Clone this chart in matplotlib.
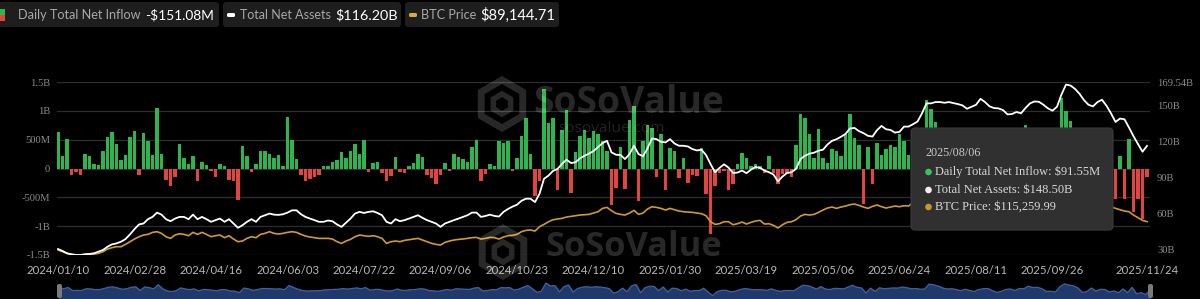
import matplotlib
matplotlib.use("Agg")
import matplotlib.pyplot as plt
import numpy as np
from matplotlib.patches import FancyBboxPatch, Rectangle, Circle, RegularPolygon
from matplotlib.transforms import IdentityTransform

# ---------------- data (2-trading-day samples) ----------------
inflow_m = [
    640, 220, 520, -120, -60, -110, 250, 220, 75, 60,
    300, 550, 630, 420, 150, 240, 540, 650, -120, 620,
    470, 230, 1050, 250, -200, -300, -150, 420, 190, 80,
    220, -210, 120, 60, -50, -155, 75, 45, -200, -220,
    -546, 390, 220, -69, 75, 300, 300, 247, 190,
    240, 40, 890, 500, 160, -110, -210, -180, -150, -120,
    40, 40, 120, 140, 290, 180, 305, 420, 250, 490,
    -60, 100, 120, -80, -210, -130, 200, -60, -70, 50,
    90, 250, 200, -110, -170, -270, -110, 100, -50, 250,
    200, 160, 110, 370, 500, -210, -100, 70, 40,
    470, 440, 470, -40, 180, 560, 880, 250, -480, -210,
    1380, 790, 880, -380, 670, 1010, -420, 290, 560, 670,
    530, 650, 590, 470, 300, -640, -330, 380, -360, 840,
    1080, -560, 470, 760, 700, -150, 590, -380, 360, 300,
    -160, 180, -250, -120, -130, 360, -450, -1140, -300,
    -70, -50, -380, -270, 70, 270, 190, 40, 70, 40,
    -70, 220, -70, -270, -100, -100, -155, 410, 940, 880,
    590, 180, 680, 190, 100, 330, 300, 220, 590, 940,
    535, 410, -620, 380, -270, 450, 240, 330, 410, 380,
    590, 480, 240, 300, 150, 200, 1180, 1030, 800,
    400, 200, 250, 100, -150, 150, -100, -300, 91.55, 250,
    300, -100, -500, -250, 100, 200, -100, 300, 250, 760,
    500, 550, 250, -300, -250, -400, 650, 1220, 1000, 830,
    400, -500, -300, 400, -250, 150, 100, -400, -200, -530,
    210, -530, 520, -760, -530, -880, -151.08,
]

tna_b = [
    30.1, 28.5, 26.5, 25.7, 25.1, 25.1, 25.7, 26.0, 26.5, 27.9,
    29.3, 32.0, 34.0, 34.8, 36.2, 38.4, 42.3, 46.7, 50.6, 51.4,
    55.0, 56.9, 60.5, 58.8, 55.0, 53.3, 55.5, 56.9, 56.9, 55.0,
    58.8, 55.0, 56.9, 55.0, 52.8, 54.2, 55.5, 52.8, 55.0, 51.4,
    47.8, 50.0, 52.8, 55.0, 52.8, 56.9, 58.3, 59.7, 58.8,
    58.6, 59.1, 60.5, 62.4, 62.4, 59.1, 56.9, 55.5, 54.2, 52.8,
    52.8, 53.9, 53.3, 50.6, 48.6, 52.0, 55.5, 59.7, 61.1, 60.2,
    61.1, 61.6, 60.2, 58.3, 52.8, 51.4, 55.0, 53.3, 54.2, 55.5,
    56.9, 58.3, 56.1, 54.2, 52.8, 51.4, 48.6, 51.4, 52.8, 54.2,
    55.5, 56.9, 58.3, 60.5, 60.5, 56.9, 57.7, 58.8, 57.7,
    57.2, 61.1, 63.5, 65.5, 67.1, 70.4, 72.1, 72.1, 69.3, 76.2,
    88.7, 91.4, 95.3, 97.0, 101.1, 104.7, 101.9, 102.5, 105.8, 108.0,
    109.7, 111.9, 115.2, 118.5, 120.4, 110.8, 108.8, 108.6, 105.2, 109.4,
    116.3, 109.4, 107.5, 114.1, 122.4, 121.8, 119.6, 119.1, 121.8, 118.2,
    116.3, 116.3, 115.7, 113.5, 112.4, 113.0, 108.6, 101.1, 94.2,
    97.8, 100.8, 98.1, 93.6, 93.9, 95.6, 93.4, 96.4, 98.6, 97.8,
    95.6, 94.2, 92.3, 86.5, 90.6, 93.6, 94.2, 97.0, 105.2, 108.0,
    109.7, 110.5, 112.2, 113.0, 117.4, 120.4, 121.8, 123.8, 126.2, 130.7,
    131.2, 128.5, 126.8, 124.6, 124.0, 129.3, 132.9, 130.1, 129.5, 127.3,
    127.9, 132.3, 132.3, 134.3, 136.5, 143.4, 151.7, 151.7, 152.8,
    152.8, 152.2, 152.8, 151.9, 151.1, 150.0, 147.2, 148.9, 150.5, 155.5,
    152.8, 149.2, 147.8, 147.5, 146.1, 142.5, 142.8, 144.5, 143.4, 147.8,
    151.7, 153.3, 153.0, 150.5, 147.5, 145.6, 148.9, 159.1, 167.4, 166.6,
    163.8, 159.7, 154.4, 150.5, 149.2, 152.8, 154.7, 149.7, 143.4, 136.2,
    139.0, 138.4, 131.5, 124.3, 117.7, 111.3, 116.2,
]

btc_k = [
    46.6, 44.1, 41.6, 40.1, 39.1, 39.1, 40.1, 40.1, 40.6, 41.6,
    44.1, 48.1, 50.1, 51.6, 51.6, 55.1, 59.1, 63.1, 66.6, 69.1,
    70.1, 73.1, 74.1, 71.6, 66.6, 64.1, 69.1, 71.1, 70.1, 68.1,
    73.1, 70.1, 73.1, 70.1, 66.6, 68.1, 69.1, 65.1, 68.1, 63.1,
    59.1, 60.1, 64.1, 66.6, 65.1, 70.1, 71.6, 74.1, 71.6,
    70.6, 71.6, 73.1, 74.1, 73.1, 70.1, 67.6, 66.1, 65.1, 64.1,
    64.1, 64.1, 63.1, 59.1, 56.6, 60.1, 62.6, 66.6, 69.1, 68.1,
    67.1, 68.1, 66.6, 64.1, 56.6, 59.1, 60.1, 59.1, 61.1, 62.1,
    63.1, 64.1, 61.6, 59.1, 56.6, 55.1, 54.1, 58.1, 60.1, 61.6,
    62.6, 63.1, 64.1, 65.1, 65.6, 63.1, 64.1, 65.6, 65.1,
    63.1, 66.1, 68.1, 68.6, 70.1, 74.1, 76.1, 76.6, 75.1, 81.6,
    85.1, 89.1, 92.1, 93.1, 94.1, 96.1, 97.1, 98.1, 99.1, 99.6,
    100.1, 102.1, 104.1, 109.1, 110.6, 105.6, 101.6, 100.1, 99.1, 102.1,
    106.1, 100.1, 102.1, 108.1, 111.6, 110.6, 109.1, 106.6, 109.1, 107.1,
    105.1, 104.1, 103.6, 103.1, 102.1, 101.1, 98.1, 89.1, 85.1,
    86.1, 89.1, 89.1, 84.6, 86.1, 88.6, 85.6, 88.1, 90.1, 91.1,
    85.6, 86.1, 83.6, 79.6, 84.6, 88.1, 89.1, 92.1, 97.6, 100.1,
    99.1, 100.1, 103.1, 106.6, 109.6, 111.1, 109.1, 111.1, 112.6, 114.6,
    115.6, 113.6, 111.1, 109.1, 112.1, 114.1, 111.6, 109.6, 111.1, 112.6,
    111.6, 113.1, 112.6, 118.1, 120.0, 119.0, 118.0, 117.0, 118.0,
    117.5, 118.5, 119.0, 118.0, 118.5, 118.0, 117.5, 115.0, 114.0, 116.5,
    119.0, 121.0, 118.0, 115.5, 113.0, 112.0, 111.0, 110.0, 108.5, 110.5,
    111.5, 112.0, 114.5, 115.5, 116.5, 116.0, 113.0, 111.0, 114.0, 119.0,
    123.0, 124.5, 121.5, 115.0, 114.0, 111.0, 108.0, 109.5, 112.0, 109.1,
    107.1, 105.1, 104.1, 99.1, 95.1, 91.1, 89.14,
]

date_labels = ["2024/01/10", "2024/02/28", "2024/04/16", "2024/06/03", "2024/07/22",
               "2024/09/06", "2024/10/23", "2024/12/10", "2025/01/30", "2025/03/19",
               "2025/05/06", "2025/06/24", "2025/08/11", "2025/09/26", "2025/11/24"]

left_ticks = [-1.5, -1.0, -0.5, 0, 0.5, 1.0, 1.5]
left_tick_labels = ["-1.5B", "-1B", "-500M", "0", "500M", "1B", "1.5B"]
right_ticks = [30, 60, 90, 120, 150, 169.54]
right_tick_labels = ["30B", "60B", "90B", "120B", "150B", "169.54B"]

legend_names = ["Daily Total Net Inflow", "Total Net Assets", "BTC Price"]
legend_values = ["-$151.08M", "$116.20B", "$89,144.71"]

tip_date = "2025/08/06"
tip_lines = ["Daily Total Net Inflow: $91.55M", "Total Net Assets: $148.50B", "BTC Price: $115,259.99"]

# ---------------- style ----------------
GREEN = "#2fb54d"
RED = "#e0463f"
WHITE = "#ffffff"
GOLD = "#d19a2e"
GRID = "#2e2e2e"
TICK = "#8e8e8e"

W, H = 1200, 299
fig = plt.figure(figsize=(W / 100, H / 100), dpi=100, facecolor="black")
ID = IdentityTransform()


def fx(x):
    return x / W


def fy(y):
    return 1 - y / H


n = len(inflow_m)
step_px = 4.5          # pixel width of one sample slot
x0_px = 58.0           # pixel position of first slot
left_px, right_px, top_px, bot_px = 57, 1150, 82, 255

ax = fig.add_axes([fx(left_px), fy(bot_px), (right_px - left_px) / W, (bot_px - top_px) / H])
ax.set_facecolor("black")
idx = np.arange(n)
vals = np.array(inflow_m) / 1000.0
cols = [GREEN if v >= 0 else RED for v in vals]
ax.bar(idx, vals, width=0.78, color=cols, zorder=3, linewidth=0)
xl = ((left_px - x0_px) / step_px, (right_px - x0_px) / step_px)
ax.set_xlim(*xl)
ax.set_ylim(-1.5, 1.5)
ax.set_yticks(left_ticks)
ax.set_yticklabels(left_tick_labels)
ax.grid(axis="y", color=GRID, linewidth=0.9, zorder=0)
ax.set_axisbelow(True)
ax.tick_params(axis="y", length=0, pad=5, labelsize=7.6, labelcolor=TICK)
for lab in ax.get_yticklabels():
    lab.set_fontfamily("Liberation Serif")
pos = [17 * k for k in range(len(date_labels) - 1)] + [n - 1]
ax.set_xticks(pos)
ax.set_xticklabels(date_labels)
ax.tick_params(axis="x", length=0, pad=7, labelsize=8.2, labelcolor="#b8b8b8")
for lab in ax.get_xticklabels():
    lab.set_fontfamily("Lato")
for s in ax.spines.values():
    s.set_visible(False)

ax3 = ax.twinx()
ax3.plot(idx, btc_k, color=GOLD, linewidth=1.2, zorder=4)
ax3.set_ylim(39.15, 298.7)
ax3.set_yticks([])
for s in ax3.spines.values():
    s.set_visible(False)

ax2 = ax.twinx()
ax2.plot(idx, tna_b, color=WHITE, linewidth=1.3, zorder=5)
ax2.set_ylim(25.1, 169.54)
ax2.set_yticks(right_ticks)
ax2.set_yticklabels(right_tick_labels)
ax2.tick_params(axis="y", length=0, pad=5, labelsize=7.6, labelcolor=TICK)
for lab in ax2.get_yticklabels():
    lab.set_fontfamily("Liberation Serif")
for s in ax2.spines.values():
    s.set_visible(False)
ax2.set_xlim(*xl)
ax3.set_xlim(*xl)

# ---------------- navigator ----------------
nav = fig.add_axes([fx(59), 0, (1150 - 59) / W, (H - 281) / H])
nav.set_facecolor("#1a2b4c")
nav.plot(idx, vals, color="#3f62a3", linewidth=0.9)
nav.fill_between(idx, vals, -2.0, color="#20386a")
nav.set_xlim(0, n - 1)
nav.set_ylim(-1.8, 1.8)
nav.axis("off")
nav.add_patch(Rectangle((0, 0), 1, 1, transform=nav.transAxes, facecolor="none", edgecolor="none"))

renderer = fig.canvas.get_renderer()


def fit_text(s, xa, xb, yc, **kw):
    t = fig.text(xa, H - yc, s, transform=ID, ha="left", va="center", fontsize=10, **kw)
    bb = t.get_window_extent(renderer)
    t.set_fontsize(10 * (xb - xa) / bb.width)
    return t


def rbox(xa, ya, xb, yb, fc, ec="none", r=3, z=10, alpha=1.0, lw=0.8):
    p = FancyBboxPatch((xa, H - yb), xb - xa, yb - ya, boxstyle=f"round,pad=0,rounding_size={r}",
                       transform=ID, facecolor=fc, edgecolor=ec, zorder=z, alpha=alpha, linewidth=lw)
    fig.patches.append(p)
    return p


for xh in (57, 1148):
    rbox(xh, 284, xh + 5, 298, "#7a7a7a", r=2, z=12)

# ---------------- watermark ----------------
WM = dict(color="white", alpha=0.16, zorder=20)
for (cx, cy), (ta, tb, tyc) in [((502, 104), (533, 725, 103)), ((503, 252), (545, 722, 247))]:
    hexa = RegularPolygon((cx, H - cy), numVertices=6, radius=24, orientation=0, transform=ID,
                          facecolor="none", edgecolor="white", linewidth=5, alpha=0.16, zorder=20)
    fig.patches.append(hexa)
    inner = RegularPolygon((cx, H - cy), numVertices=6, radius=10, orientation=0, transform=ID,
                           facecolor="none", edgecolor="white", linewidth=4, alpha=0.16, zorder=20)
    fig.patches.append(inner)
    fit_text("SoSoValue", ta, tb, tyc, fontweight="bold", family="Open Sans", **WM)
fit_text("sosovalue.com", 558, 664, 129, family="Open Sans", color="white", alpha=0.14, zorder=20)

# ---------------- legend ----------------
PILL = "#1e1e1e"
rbox(-6, 2, 219, 27, PILL, r=3)
rbox(223, 2, 401, 27, PILL, r=3)
rbox(405, 2, 559, 27, PILL, r=3)
fig.patches.append(Rectangle((0, H - 15), 5, 6, transform=ID, facecolor=GREEN, zorder=11))
fig.patches.append(Rectangle((0, H - 21), 5, 6, transform=ID, facecolor=RED, zorder=11))
rbox(227, 13, 235, 17, WHITE, r=1.5, z=11)
rbox(409, 13, 417, 17, "#e0a83a", r=1.5, z=11)
LG = dict(color="#a8a8a8", family="Lato", zorder=12)
LV = dict(color="#ffffff", family="Lato", zorder=12)
fit_text(legend_names[0], 18, 140, 15, **LG)
fit_text(legend_values[0], 145, 214, 15, **LV)
fit_text(legend_names[1], 240, 331, 15, **LG)
fit_text(legend_values[1], 335, 398, 15, **LV)
fit_text(legend_names[2], 421, 476, 15, **LG)
fit_text(legend_values[2], 480, 555, 15, **LV)

# ---------------- tooltip ----------------
rbox(911, 128, 1113, 230, "#303030", ec="#3c3c3c", r=4, z=30)
TT = dict(color="#d8d8d8", family="Liberation Serif", zorder=31)
fit_text(tip_date, 925, 980, 153, **dict(TT, color="#c8c8c8"))
fit_text(tip_lines[0], 935, 1100, 172, **TT)
fit_text(tip_lines[1], 935, 1072, 190, **TT)
fit_text(tip_lines[2], 935, 1056, 207, **TT)
for yc, c in [(172, "#3ec15a"), (190, "#f0f0f0"), (207, "#c9962e")]:
    fig.patches.append(Circle((928.5, H - yc), 3.3, transform=ID, facecolor=c, edgecolor="none", zorder=31))

fig.savefig("out.png", dpi=100, facecolor="black")
